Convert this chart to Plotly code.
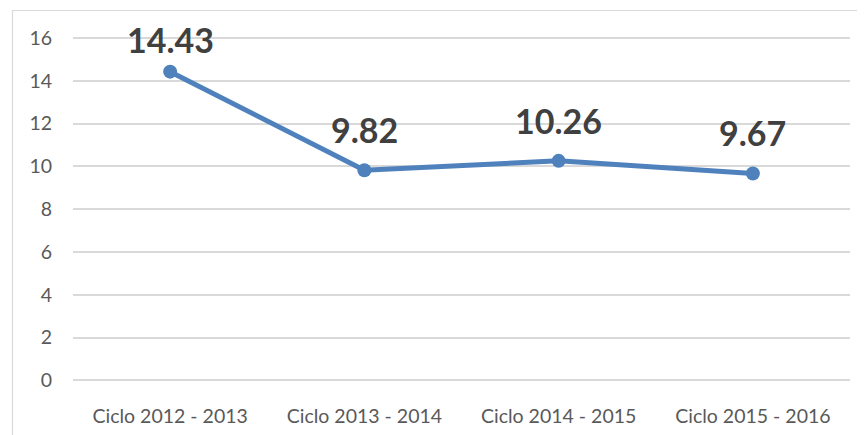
import plotly.graph_objects as go

categories = ["Ciclo 2012 - 2013", "Ciclo 2013 - 2014", "Ciclo 2014 - 2015", "Ciclo 2015 - 2016"]
values = [14.43, 9.82, 10.26, 9.67]
y_ticks = [0, 2, 4, 6, 8, 10, 12, 14, 16]
label_shift = [32, 41, 40, 41]

# page body has an 8px margin; compensate
OFF = 8
W, H = 865, 435
pw, ph = 777, 345
L, T = 73 - OFF, 37 - OFF
R = W - L - pw
B = H - T - ph

fig = go.Figure()
fig.add_trace(go.Scatter(
    x=categories, y=values,
    mode="lines+markers",
    line=dict(color="#4F81BD", width=5),
    marker=dict(color="#4F81BD", size=14),
    cliponaxis=False,
    hoverinfo="x+y",
))

for c, v, s in zip(categories, values, label_shift):
    fig.add_annotation(
        x=c, y=v, text=f"{v:.2f}", showarrow=False, yshift=s,
        xanchor="center", yanchor="middle",
        font=dict(family="Lato", size=34, color="#404040", weight="bold"),
    )

fig.update_layout(
    width=W, height=H,
    margin=dict(l=L, r=R, t=T, b=B),
    paper_bgcolor="white", plot_bgcolor="white",
    showlegend=False,
    font=dict(family="Lato", size=19, color="#595959"),
    xaxis=dict(
        type="category", range=[-0.5, 3.5], showgrid=False, showline=False,
        zeroline=False, ticks="", ticklabelstandoff=20,
        tickfont=dict(size=19.5, color="#595959"),
    ),
    yaxis=dict(
        range=[-0.08, 16.05], tickvals=y_ticks, showgrid=True, gridcolor="#D9D9D9",
        gridwidth=1.5, zeroline=True, zerolinecolor="#D9D9D9", zerolinewidth=1.5,
        showline=False, ticks="",
        ticklabelstandoff=20, tickfont=dict(size=19.5, color="#595959"),
    ),
    shapes=[dict(
        type="rect", xref="paper", yref="paper",
        x0=(12.5 - OFF - L) / pw, x1=(W + 20 - L) / pw,
        y0=-(B + 20) / ph, y1=1 + (T - (10.5 - OFF)) / ph,
        line=dict(color="#D9D9D9", width=1.2), fillcolor="rgba(0,0,0,0)",
        layer="below",
    )],
)

fig.write_html("out.html")
